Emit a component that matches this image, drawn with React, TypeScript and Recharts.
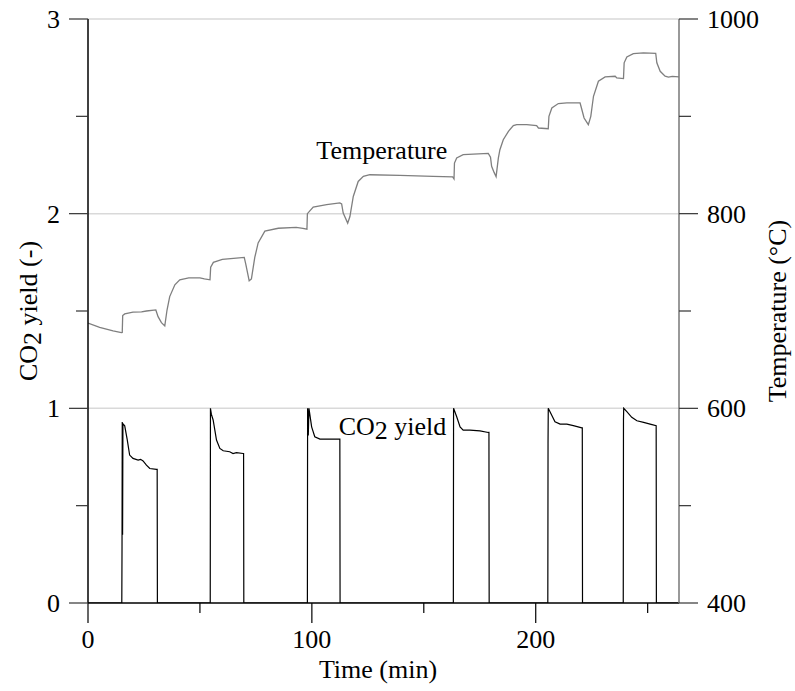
import React from 'react';
import { LineChart, Line, XAxis, YAxis, ReferenceLine, ReferenceDot } from 'recharts';

const FONT = "'Liberation Serif', 'DejaVu Serif', 'Times New Roman', Times, serif";
const TXT: React.CSSProperties = { fontFamily: FONT, fontSize: 26, fill: '#000' };

// CO2 yield series (time in min, yield -)
const co2Time = [0, 15.1, 15.2, 15.3, 15.45, 15.6, 16.4, 17.5, 18.6, 20.1, 22.4, 23.5, 24.6, 26.1, 27.6, 30.6, 30.9, 31.0,
  54.6, 54.7, 55.1, 55.9, 57.4, 58.9, 60.4, 63.3, 64.8, 66.3, 69.3, 69.5, 69.6,
  98.0, 98.1, 98.4, 98.7, 99.9, 101.3, 103.6, 112.5, 112.6,
  163.2, 163.3, 164.7, 166.2, 167.6, 170.6, 175.1, 178.8, 179.1, 179.2,
  205.4, 205.5, 205.6, 207.1, 208.6, 210.9, 213.9, 216.8, 220.6, 220.8, 220.9,
  239.1, 239.2, 239.3, 240.7, 242.9, 245.2, 248.2, 251.1, 253.8, 253.9, 264];
const co2Yield = [0, 0, 0.29, 0.93, 0.35, 0.92, 0.91, 0.84, 0.76, 0.743, 0.734, 0.738, 0.73, 0.708, 0.691, 0.686, 0.686, 0,
  0, 1.0, 0.97, 0.94, 0.837, 0.794, 0.782, 0.777, 0.768, 0.772, 0.768, 0.768, 0,
  0, 1.0, 0.86, 1.0, 0.905, 0.854, 0.842, 0.842, 0,
  0, 1.0, 0.957, 0.905, 0.888, 0.888, 0.884, 0.876, 0.876, 0,
  0, 0.82, 1.0, 0.966, 0.931, 0.919, 0.919, 0.911, 0.9, 0.9, 0,
  0, 0.94, 1.0, 0.983, 0.954, 0.936, 0.928, 0.919, 0.911, 0, 0];

// Temperature series (time in min, °C)
const tempTime = [0, 5.2, 11.2, 14.9, 15.3, 15.5, 16.4, 20.1, 23.9, 26.1, 30.3, 31.3, 32.8, 34.3, 35.3, 36.5, 38.8, 41.0,
  45, 50, 52, 54.5, 54.8, 56, 60, 65, 69.8, 70.5, 72, 73, 74.5, 76, 79, 85, 93, 96, 97.8,
  98.0, 100.6, 106.6, 112.5, 113.3, 114.0, 116.0, 117.0, 118.5, 120.7, 123.0, 125.9, 139.3, 154.2, 162.9, 163.5,
  163.7, 164.7, 167.6, 178.8, 179.8, 180.3, 181.4, 182.3, 183.3, 184.0, 185.5, 187.8, 190.0, 191.5, 196.0, 200.4, 201.2, 205.6,
  205.9, 207.2, 210.1, 213.9, 219.8, 220.3, 221.6, 223.5, 224.6, 225.8, 228.0, 231.0, 235.5, 236.2, 239.2,
  239.5, 240.7, 243.6, 248.1, 253.6, 254.1, 255.6, 257.8, 259.3, 261, 264];
const tempValue = [687.5, 683.3, 679.5, 677.8, 678, 695.3, 697, 698.8, 699, 700, 701.1, 694.2, 688, 684.7, 701, 714.8, 726.9, 732,
  734, 734, 733, 732, 745, 750, 753, 754, 755, 748, 731, 733, 755, 770, 782, 785, 786, 785, 784,
  800, 806.8, 809.2, 811, 810, 800.6, 790.3, 797.1, 817.7, 833.1, 838.3, 840, 839.3, 838.3, 837.7, 835.6,
  852, 857.2, 860.6, 862, 858, 848.6, 842.4, 838, 857, 865.7, 876, 884.6, 890.4, 891.5, 891.5, 890.4, 888, 887.3,
  900, 908.6, 913.1, 913.8, 913.8, 909.6, 898.3, 891.5, 900, 920.6, 936, 940.5, 941.2, 939.5, 938.8,
  955, 961.1, 964.5, 965.2, 964.8, 955, 946.3, 941.2, 940.2, 941, 940.5];

const xMajorTicks = [0, 100, 200];
const xMinorTicks = [50, 150, 250];
const leftMajorTicks = [0, 1, 2, 3];
const leftMinorTicks = [0.5, 1.5, 2.5];
const rightMajorTicks = [400, 600, 800, 1000];
const rightMinorTicks = [500, 700, 900];
const gridValues = [1, 2, 3];

const co2Data = co2Time.map((t, i) => ({ t, y: co2Yield[i] }));
const tempData = tempTime.map((t, i) => ({ t, temp: tempValue[i] }));

const XTick = (props: any) => {
  const { x, y, payload } = props;
  const major = xMajorTicks.includes(payload.value);
  return (
    <g>
      <line x1={x} x2={x} y1={y} y2={y + (major ? 20 : 10)} stroke="#000" strokeWidth={1.2} />
      {major && (
        <text x={x} y={y + 45} textAnchor="middle" style={TXT}>
          {payload.value}
        </text>
      )}
    </g>
  );
};

const LeftTick = (props: any) => {
  const { x, y, payload } = props;
  const major = leftMajorTicks.includes(payload.value);
  return (
    <g>
      <line x1={x} x2={x - (major ? 19 : 12)} y1={y} y2={y} stroke="#333" strokeWidth={1.2} />
      {major && (
        <text x={x - 28} y={y + 9} textAnchor="end" style={TXT}>
          {payload.value}
        </text>
      )}
    </g>
  );
};

const RightTick = (props: any) => {
  const { x, y, payload } = props;
  const major = rightMajorTicks.includes(payload.value);
  return (
    <g>
      <line x1={x} x2={x + (major ? 19 : 12)} y1={y} y2={y} stroke="#333" strokeWidth={1.2} />
      {major && (
        <text x={x + 28} y={y + 9} textAnchor="start" style={TXT}>
          {payload.value}
        </text>
      )}
    </g>
  );
};

export default function App() {
  return (
    <div style={{ position: 'absolute', left: 0, top: 0, width: 795, height: 691, background: '#fff', fontFamily: FONT }}>
      <LineChart width={795} height={691} margin={{ top: 19, right: 0, bottom: 0, left: 0 }} style={{ fontFamily: FONT }}>
        <XAxis
          dataKey="t"
          type="number"
          domain={[0, 264]}
          allowDataOverflow
          ticks={[...xMajorTicks, ...xMinorTicks].sort((a, b) => a - b)}
          interval={0}
          height={88}
          tickSize={0}
          tickMargin={0}
          tickLine={false}
          tick={<XTick />}
          axisLine={{ stroke: '#000', strokeWidth: 1.5 }}
          label={() => (
            <text x={378} y={678} textAnchor="middle" style={TXT}>
              Time (min)
            </text>
          )}
        />
        <YAxis
          yAxisId="left"
          orientation="left"
          type="number"
          domain={[0, 3]}
          allowDataOverflow
          ticks={[...leftMajorTicks, ...leftMinorTicks].sort((a, b) => a - b)}
          interval={0}
          width={88}
          tickSize={0}
          tickMargin={0}
          tickLine={false}
          tick={<LeftTick />}
          axisLine={{ stroke: '#000', strokeWidth: 1.5 }}
          label={() => (
            <text x={37} y={311} textAnchor="middle" style={TXT} transform="rotate(-90, 37, 311)">
              CO<tspan dy={4}>2</tspan><tspan dy={-4}> yield (-)</tspan>
            </text>
          )}
        />
        <YAxis
          yAxisId="right"
          orientation="right"
          type="number"
          domain={[400, 1000]}
          allowDataOverflow
          ticks={[...rightMajorTicks, ...rightMinorTicks].sort((a, b) => a - b)}
          interval={0}
          width={116}
          tickSize={0}
          tickMargin={0}
          tickLine={false}
          tick={<RightTick />}
          axisLine={{ stroke: '#777', strokeWidth: 1.5 }}
          label={() => (
            <text x={786} y={311} textAnchor="middle" style={TXT} transform="rotate(-90, 786, 311)">
              Temperature (°C)
            </text>
          )}
        />
        {gridValues.map((v) => (
          <ReferenceLine key={v} yAxisId="left" y={v} stroke="#d9d9d9" strokeWidth={1.5} ifOverflow="visible" />
        ))}
        <Line
          data={tempData}
          yAxisId="right"
          dataKey="temp"
          type="linear"
          stroke="#7f7f7f"
          strokeWidth={1.3}
          dot={false}
          isAnimationActive={false}
        />
        <Line
          data={co2Data}
          yAxisId="left"
          dataKey="y"
          type="linear"
          stroke="#000"
          strokeWidth={1.2}
          dot={false}
          isAnimationActive={false}
        />
        <ReferenceDot
          yAxisId="right"
          x={102}
          y={856}
          r={0}
          ifOverflow="visible"
          shape={(p: any) => (
            <text x={p.cx} y={p.cy} textAnchor="start" style={TXT}>
              Temperature
            </text>
          )}
        />
        <ReferenceDot
          yAxisId="left"
          x={112}
          y={0.863}
          r={0}
          ifOverflow="visible"
          shape={(p: any) => (
            <text x={p.cx} y={p.cy} textAnchor="start" style={TXT}>
              CO<tspan dy={4}>2</tspan><tspan dy={-4}> yield</tspan>
            </text>
          )}
        />
      </LineChart>
    </div>
  );
}
